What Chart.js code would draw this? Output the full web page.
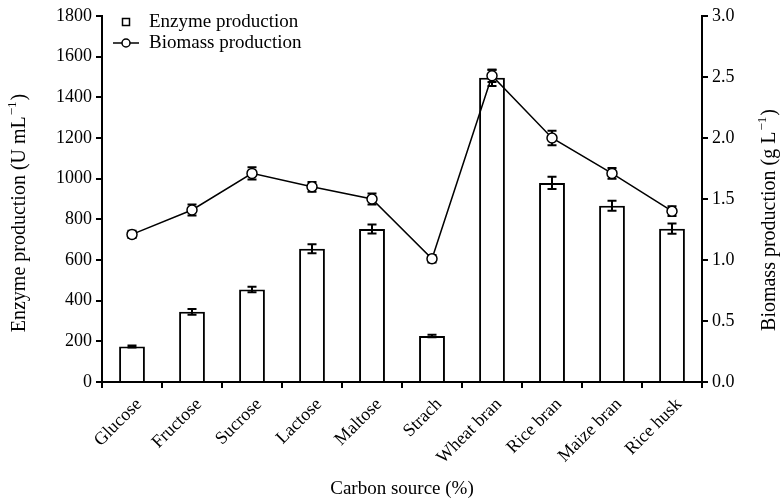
<!DOCTYPE html>
<html>
<head>
<meta charset="utf-8">
<script src="https://cdn.jsdelivr.net/npm/chart.js@4.4.1/dist/chart.umd.min.js"></script>
<style>
  html, body { margin: 0; padding: 0; background: #fff; }
  #wrap { width: 782px; height: 502px; position: relative; }
</style>
</head>
<body>
<div id="wrap"><canvas id="myChart" width="782" height="502"></canvas></div>
<script>
const categories = ['Glucose', 'Fructose', 'Sucrose', 'Lactose', 'Maltose', 'Strach', 'Wheat bran', 'Rice bran', 'Maize bran', 'Rice husk'];
const enzyme = [175, 345, 455, 655, 752, 226, 1496, 979, 867, 754];
const enzymeErr = [5, 14, 13, 22, 22, 6, 40, 30, 25, 25];
const biomass = [1.21, 1.41, 1.71, 1.6, 1.5, 1.01, 2.51, 2.0, 1.71, 1.4];
const biomassErr = [0.03, 0.045, 0.05, 0.04, 0.045, 0.03, 0.05, 0.06, 0.045, 0.04];
const leftTicks = [0, 200, 400, 600, 800, 1000, 1200, 1400, 1600, 1800];
const rightTicks = ['0.0', '0.5', '1.0', '1.5', '2.0', '2.5', '3.0'];

const serif = '"Liberation Serif", "Times New Roman", serif';
Chart.defaults.font.family = serif;
Chart.defaults.color = '#000';

// error bars drawn with the chart's own scales
const errorBars = {
  id: 'errorBars',
  beforeDatasetDraw(chart, args) {
    if (args.index === 1) drawErr(chart, 1, biomass, biomassErr, 'y1');
  },
  afterDatasetDraw(chart, args) {
    if (args.index === 0) drawErr(chart, 0, enzyme, enzymeErr, 'y');
  }
};

function drawErr(chart, dsIndex, vals, errs, axis) {
  const ctx = chart.ctx;
  const meta = chart.getDatasetMeta(dsIndex);
  const scale = chart.scales[axis];
  ctx.save();
  ctx.strokeStyle = '#000';
  ctx.lineWidth = 2;
  meta.data.forEach((el, i) => {
    const x = el.x;
    const yTop = scale.getPixelForValue(vals[i] + errs[i]);
    const yBot = scale.getPixelForValue(vals[i] - errs[i]);
    ctx.beginPath();
    ctx.moveTo(x, yTop); ctx.lineTo(x, yBot);
    ctx.moveTo(x - 4.5, yTop); ctx.lineTo(x + 4.5, yTop);
    ctx.moveTo(x - 4.5, yBot); ctx.lineTo(x + 4.5, yBot);
    ctx.stroke();
  });
  ctx.restore();
}

// vertical axis title with a real superscript, reading bottom to top
function vTitle(ctx, cx, cy, main, sup, tail) {
  ctx.save();
  ctx.translate(cx, cy);
  ctx.rotate(-Math.PI / 2);
  ctx.fillStyle = '#000';
  ctx.textBaseline = 'middle';
  ctx.textAlign = 'left';
  const big = '20px ' + serif, small = '13px ' + serif;
  ctx.font = big;
  const w1 = ctx.measureText(main).width;
  const w3 = ctx.measureText(tail).width;
  ctx.font = small;
  const w2 = ctx.measureText(sup).width + 2;
  let x = -(w1 + w2 + w3) / 2;
  ctx.font = big;
  ctx.fillText(main, x, 0);
  x += w1 + 1;
  ctx.font = small;
  ctx.fillText(sup, x, -7);
  x += w2 - 1;
  ctx.font = big;
  ctx.fillText(tail, x, 0);
  ctx.restore();
}

const legendBox = {
  id: 'legendBox',
  afterDraw(chart) {
    const ctx = chart.ctx;
    const a = chart.chartArea;
    const mx = a.left + 24;
    const tx = a.left + 47;
    ctx.save();
    ctx.strokeStyle = '#000';
    ctx.fillStyle = '#fff';
    ctx.lineWidth = 1.5;
    // square marker
    ctx.fillRect(mx - 3.5, 18.5, 7, 7);
    ctx.strokeRect(mx - 3.5, 18.5, 7, 7);
    // line + circle marker
    ctx.beginPath();
    ctx.moveTo(mx - 13, 43); ctx.lineTo(mx + 13, 43);
    ctx.stroke();
    ctx.beginPath();
    ctx.arc(mx, 43, 4, 0, Math.PI * 2);
    ctx.fill(); ctx.stroke();
    ctx.fillStyle = '#000';
    ctx.font = '19px ' + serif;
    ctx.textBaseline = 'middle';
    ctx.textAlign = 'left';
    ctx.fillText('Enzyme production', tx, 22);
    ctx.fillText('Biomass production', tx, 43);
    ctx.restore();

    vTitle(ctx, 20, 213, 'Enzyme production (U mL', '\u22121', ')');
    vTitle(ctx, 770, 220, 'Biomass production (g L', '\u22121', ')');
  }
};

const ctx = document.getElementById('myChart').getContext('2d');
const myChart = new Chart(ctx, {
  type: 'bar',
  data: {
    labels: categories,
    datasets: [{
      label: 'Enzyme production',
      data: enzyme,
      backgroundColor: '#fff',
      borderColor: '#000',
      borderWidth: 2,
      barPercentage: 0.43,
      categoryPercentage: 1,
      yAxisID: 'y',
      order: 2
    }, {
      type: 'line',
      label: 'Biomass production',
      data: biomass,
      borderColor: '#000',
      borderWidth: 1.5,
      pointRadius: 5,
      pointBorderWidth: 1.5,
      pointBackgroundColor: '#fff',
      pointBorderColor: '#000',
      yAxisID: 'y1',
      order: 1
    }]
  },
  options: {
    responsive: false,
    animation: false,
    layout: { padding: { top: 16, left: 0, right: 0, bottom: 0 } },
    plugins: {
      legend: { display: false },
      tooltip: { enabled: false }
    },
    scales: {
      x: {
        offset: true,
        grid: { offset: true, drawOnChartArea: false, color: '#000', lineWidth: 2, tickLength: 6 },
        border: { color: '#000', width: 2 },
        ticks: { font: { size: 18 }, maxRotation: 45, minRotation: 45, padding: 6, labelOffset: 7 },
        title: { display: true, text: 'Carbon source (%)', font: { size: 19 }, padding: { top: 0, bottom: 2 } },
        afterFit(scale) { scale.height = 120; }
      },
      y: {
        position: 'left',
        min: 0, max: 1800,
        afterBuildTicks(scale) { scale.ticks = leftTicks.map(v => ({ value: v })); },
        grid: { drawOnChartArea: false, color: '#000', lineWidth: 2, tickLength: 6 },
        border: { color: '#000', width: 2 },
        ticks: { font: { size: 18 }, padding: 4, callback: (v, i) => String(leftTicks[i]) },
        title: { display: false },
        afterFit(scale) { scale.width = 102; }
      },
      y1: {
        position: 'right',
        min: 0, max: 3,
        afterBuildTicks(scale) { scale.ticks = rightTicks.map(v => ({ value: parseFloat(v) })); },
        grid: { drawOnChartArea: false, color: '#000', lineWidth: 2, tickLength: 6 },
        border: { color: '#000', width: 2 },
        ticks: { font: { size: 18 }, padding: 4, callback: (v, i) => rightTicks[i] },
        title: { display: false },
        afterFit(scale) { scale.width = 80; }
      }
    }
  },
  plugins: [errorBars, legendBox]
});
</script>
</body>
</html>
